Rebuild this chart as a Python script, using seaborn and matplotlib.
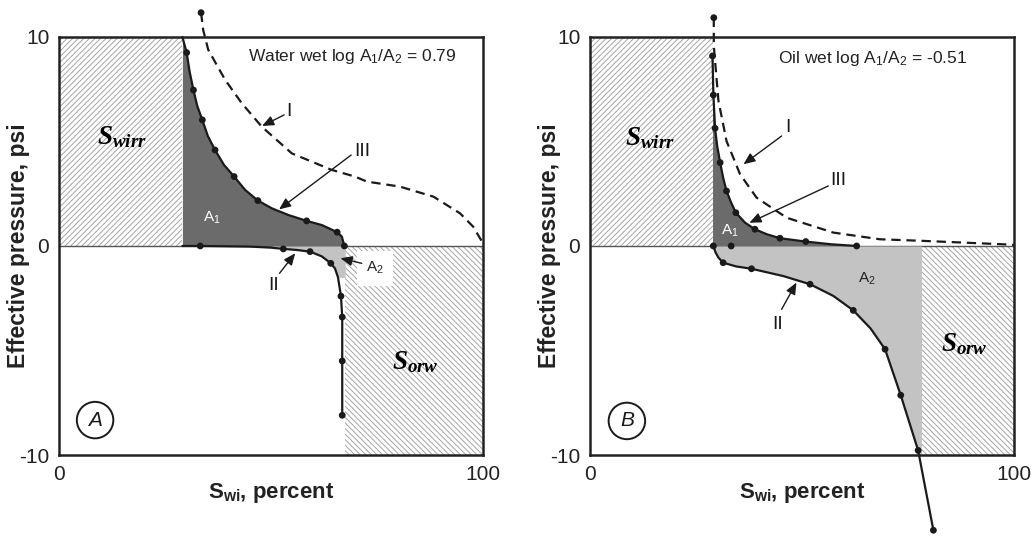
import numpy as np
import pandas as pd
import matplotlib
matplotlib.use("Agg")
import matplotlib.pyplot as plt
from matplotlib.patches import Rectangle
import seaborn as sns

sns.set_style("white")
plt.rcParams['font.family'] = ['Liberation Sans', 'DejaVu Sans']
plt.rcParams['mathtext.fontset'] = 'custom'
plt.rcParams['mathtext.rm'] = 'Liberation Sans'
plt.rcParams['mathtext.bf'] = 'Liberation Sans:bold'
plt.rcParams['mathtext.it'] = 'Liberation Serif:italic:bold'
plt.rcParams['hatch.linewidth'] = 0.7

# ---------------- data ----------------
# Panel A: water wet
swirr_A = 29.1
sorw_A = 67.5
I_A_x = [33.5, 34.0, 35.2, 39.2, 43.1, 47.8, 54.9, 64.3, 69.8, 72.6, 80.4, 88.3, 94.6, 97.7, 100.0]
I_A_y = [11.16, 10.33, 9.38, 7.94, 6.83, 5.71, 4.43, 3.64, 3.32, 3.08, 2.84, 2.36, 1.56, 0.92, 0.13]
III_A_x = [29.1, 30.1, 30.8, 31.7, 32.6, 33.8, 35.1, 36.8, 38.9, 41.3, 43.9, 46.9, 50.2, 54.1,
           58.4, 62.0, 65.6, 66.7, 67.3]
III_A_y = [10.0, 9.25, 8.34, 7.46, 6.70, 6.03, 5.26, 4.59, 3.88, 3.32, 2.68, 2.17, 1.80, 1.48,
           1.20, 1.00, 0.66, 0.45, 0.0]
III_A_px = [30.1, 31.7, 33.8, 36.8, 41.3, 46.9, 58.4, 65.6, 67.3]
III_A_py = [9.25, 7.46, 6.03, 4.59, 3.32, 2.17, 1.20, 0.66, 0.0]
II_A_x = [29.1, 33.3, 45.0, 50.0, 52.9, 56.0, 59.2, 62.0, 64.1, 65.1, 65.8, 66.5, 66.8, 66.8, 66.8]
II_A_y = [0.0, 0.0, -0.03, -0.08, -0.14, -0.19, -0.27, -0.5, -0.83, -1.08, -1.5, -2.4, -3.4, -5.5, -8.1]
II_A_px = [33.3, 52.9, 59.2, 64.1, 66.5, 66.8, 66.8, 66.8]
II_A_py = [0.0, -0.14, -0.27, -0.83, -2.4, -3.4, -5.5, -8.1]
A2_A_x = [50.0, 52.9, 56.0, 59.2, 62.0, 64.1, 65.1, 65.8]
A2_A_y = [0.0, -0.14, -0.19, -0.27, -0.5, -0.83, -1.08, -1.5]

# Panel B: oil wet
swirr_B = 29.1
sorw_B = 78.2
I_B_x = [29.2, 29.2, 30.3, 32.2, 35.4, 39.3, 46.4, 57.4, 68.4, 77.8, 97.5, 100.0]
I_B_y = [10.92, 9.57, 6.94, 5.02, 3.43, 2.31, 1.35, 0.64, 0.32, 0.25, 0.08, 0.05]
III_B_x = [28.9, 29.1, 29.5, 30.0, 30.7, 31.4, 32.2, 33.3, 34.4, 36.6, 38.9, 41.7, 44.8, 50.9, 56.9, 62.9]
III_B_y = [9.09, 7.22, 5.63, 4.78, 3.99, 3.27, 2.63, 2.07, 1.59, 1.11, 0.80, 0.56, 0.37, 0.21, 0.08, 0.0]
III_B_px = [28.9, 29.1, 29.5, 30.7, 32.2, 34.4, 38.9, 44.8, 50.9, 62.9, 33.3]
III_B_py = [9.09, 7.22, 5.63, 3.99, 2.63, 1.59, 0.80, 0.37, 0.21, 0.0, 0.0]
II_B_x = [29.1, 29.6, 30.3, 31.4, 34.5, 38.1, 45.6, 51.9, 57.4, 62.1, 66.2, 69.6, 73.3, 77.4, 81.0]
II_B_y = [0.0, -0.3, -0.56, -0.8, -0.98, -1.09, -1.44, -1.83, -2.39, -3.08, -3.95, -4.94, -7.14, -9.78, -13.6]
II_B_px = [29.1, 31.4, 38.1, 51.9, 62.1, 69.6, 73.3, 77.4, 81.0]
II_B_py = [0.0, -0.8, -1.09, -1.83, -3.08, -4.94, -7.14, -9.78, -13.6]

x_ticks = [0, 100]
x_ticklabels = ['0', '100']
y_ticks = [-10, 0, 10]
y_ticklabels = ['-10', '0', '10']

DARK = '#6b6b6b'
LIGHT = '#c3c3c3'
INK = '#1a1a1a'
HATCH = '#a5a5a5'

fig = plt.figure(figsize=(10.34, 5.36), dpi=100)
axA = fig.add_axes([0.0571, 0.1511, 0.410, 0.780])
axB = fig.add_axes([0.5706, 0.1511, 0.410, 0.780])


def base(ax, swirr, sorw):
    ax.set_xlim(0, 100)
    ax.set_ylim(-10, 10)
    ax.add_patch(Rectangle((0, 0), swirr, 10, facecolor='white', edgecolor=HATCH,
                           hatch='//////', linewidth=0, zorder=0.5))
    ax.add_patch(Rectangle((sorw, -10), 100 - sorw, 10, facecolor='white', edgecolor=HATCH,
                           hatch='\\\\\\\\\\\\', linewidth=0, zorder=0.5))
    ax.axhline(0, color='#555555', lw=1.0, zorder=1)
    for s in ax.spines.values():
        s.set_color('#222222')
        s.set_linewidth(1.8)
        s.set_zorder(6)
    ax.set_xticks(x_ticks)
    ax.set_xticklabels(x_ticklabels)
    ax.set_yticks(y_ticks)
    ax.set_yticklabels(y_ticklabels)
    ax.tick_params(length=0, labelsize=15, pad=7, colors='#222222')
    ax.set_xlabel(r'$\mathbf{S}_{\mathbf{wi}}$, percent', fontsize=16, fontweight='bold', color='#222222')
    ax.set_ylabel('Effective pressure, psi', fontsize=16.5, fontweight='bold', color='#222222')
    ax.xaxis.set_label_coords(0.5, -0.062)
    ax.yaxis.set_label_coords(-0.068, 0.5)


def curve(ax, x, y, dashed=False):
    df = pd.DataFrame({'x': x, 'y': y})
    sns.lineplot(data=df, x='x', y='y', sort=False, estimator=None, ax=ax, color=INK,
                 lw=1.6, clip_on=False, zorder=4,
                 linestyle='--' if dashed else '-',
                 dashes=False)
    ax.lines[-1].set_solid_joinstyle('round')
    if dashed:
        ax.lines[-1].set_dashes((4.2, 2.6))


def dots(ax, x, y):
    df = pd.DataFrame({'x': x, 'y': y})
    sns.scatterplot(data=df, x='x', y='y', ax=ax, color=INK, s=24, edgecolor='none',
                    clip_on=False, zorder=5)


def arrow(ax, tail, head):
    ax.annotate('', xy=head, xytext=tail,
                arrowprops=dict(arrowstyle='-|>,head_length=0.7,head_width=0.3',
                                color=INK, lw=1.0, shrinkA=0, shrinkB=0), zorder=5)


# ---- Panel A ----
base(axA, swirr_A, sorw_A)
axA.fill_between(III_A_x, III_A_y, 0, color=DARK, lw=0, zorder=1.5)
axA.fill_betweenx(A2_A_y, A2_A_x, sorw_A, color=LIGHT, lw=0, zorder=1.5)
curve(axA, I_A_x, I_A_y, dashed=True)
curve(axA, III_A_x, III_A_y)
curve(axA, II_A_x, II_A_y)
dots(axA, III_A_px, III_A_py)
dots(axA, II_A_px, II_A_py)
dots(axA, I_A_x[:1], I_A_y[:1])
axA.text(69.1, 9.04, r'Water wet log A$_1$/A$_2$ = 0.79', fontsize=12.5, ha='center', va='center', color='#222222')
axA.text(54.2, 6.41, 'I', fontsize=14, ha='center', va='center', color=INK)
arrow(axA, (53.1, 6.27), (47.9, 5.74))
axA.text(71.5, 4.5, 'III', fontsize=14, ha='center', va='center', color=INK)
arrow(axA, (68.9, 4.35), (51.9, 1.75))
axA.text(36.1, 1.34, r'A$_1$', fontsize=11, ha='center', va='center', color='white', zorder=5)
axA.text(50.7, -1.87, 'II', fontsize=14, ha='center', va='center', color=INK)
arrow(axA, (52.0, -1.31), (55.7, -0.35))
axA.text(74.5, -1.07, r'A$_2$', fontsize=11, ha='center', va='center', color='#222222', zorder=3,
         bbox=dict(boxstyle='square,pad=0.6', fc='white', ec='none'))
arrow(axA, (71.4, -0.83), (66.4, -0.59))
axA.text(14.9, 5.2, r'$S_{wirr}$', fontsize=19.5, ha='center', va='center', color='black', zorder=3)
axA.text(84.0, -5.55, r'$S_{orw}$', fontsize=19.5, ha='center', va='center', color='black', zorder=3)
axA.text(8.5, -8.33, 'A', fontsize=15, style='italic', ha='center', va='center', color=INK,
         bbox=dict(boxstyle='circle,pad=0.42', fc='white', ec=INK, lw=1.4))

# ---- Panel B ----
base(axB, swirr_B, sorw_B)
axB.fill_between(III_B_x, III_B_y, 0, color=DARK, lw=0, zorder=1.5)
axB.fill_betweenx(II_B_y, np.minimum(II_B_x, sorw_B), sorw_B, color=LIGHT, lw=0, zorder=1.5)
curve(axB, I_B_x, I_B_y, dashed=True)
curve(axB, III_B_x, III_B_y)
curve(axB, II_B_x, II_B_y)
dots(axB, III_B_px, III_B_py)
dots(axB, II_B_px, II_B_py)
dots(axB, I_B_x[:1], I_B_y[:1])
axB.text(66.7, 8.99, r'Oil wet log A$_1$/A$_2$ = -0.51', fontsize=12.5, ha='center', va='center', color='#222222')
axB.text(46.7, 5.65, 'I', fontsize=14, ha='center', va='center', color=INK)
arrow(axB, (45.2, 5.26), (36.2, 3.91))
axB.text(58.6, 3.11, 'III', fontsize=14, ha='center', va='center', color=INK)
arrow(axB, (56.2, 2.87), (37.6, 1.11))
axB.text(32.9, 0.72, r'A$_1$', fontsize=11, ha='center', va='center', color='white', zorder=5)
axB.text(65.3, -1.59, r'A$_2$', fontsize=11, ha='center', va='center', color='#222222', zorder=3)
axB.text(44.2, -3.75, 'II', fontsize=14, ha='center', va='center', color=INK)
arrow(axB, (45.2, -3.03), (48.7, -1.75))
axB.text(14.2, 5.17, r'$S_{wirr}$', fontsize=19.5, ha='center', va='center', color='black', zorder=3)
axB.text(88.4, -4.7, r'$S_{orw}$', fontsize=19.5, ha='center', va='center', color='black', zorder=3)
axB.text(8.7, -8.37, 'B', fontsize=15, style='italic', ha='center', va='center', color=INK,
         bbox=dict(boxstyle='circle,pad=0.42', fc='white', ec=INK, lw=1.4))

fig.savefig('out.png', dpi=100, facecolor='white')
